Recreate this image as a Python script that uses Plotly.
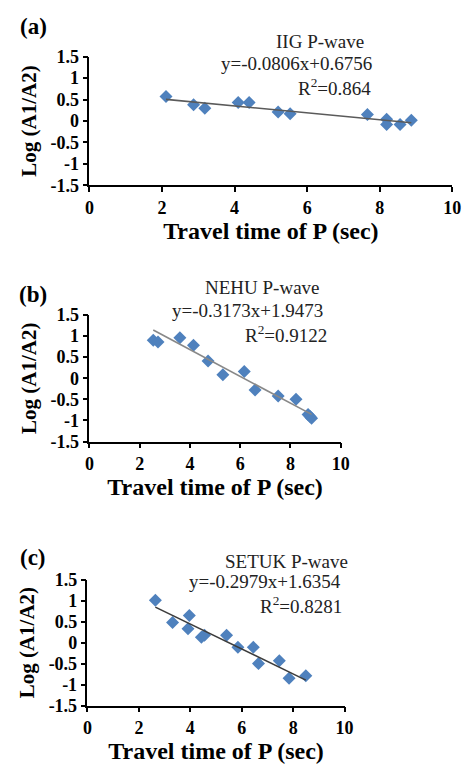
import plotly.graph_objects as go

# ---------------- data ----------------
a_time = [2.11, 2.87, 3.18, 4.10, 4.40, 5.20, 5.53, 7.66, 8.19, 8.19, 8.56, 8.87]
a_logr = [0.57, 0.38, 0.30, 0.43, 0.43, 0.21, 0.17, 0.15, 0.04, -0.08, -0.08, 0.02]
a_fit = [-0.0806, 0.6756]
a_title = "IIG P-wave"
a_eq = "y=-0.0806x+0.6756"
a_r2 = "R<sup>2</sup>=0.864"

b_time = [2.54, 2.73, 3.60, 4.14, 4.72, 5.31, 6.16, 6.59, 7.51, 8.22, 8.70, 8.78, 8.84]
b_logr = [0.90, 0.86, 0.96, 0.78, 0.41, 0.08, 0.16, -0.28, -0.42, -0.50, -0.86, -0.91, -0.95]
b_fit = [-0.3173, 1.9473]
b_title = "NEHU P-wave"
b_eq = "y=-0.3173x+1.9473"
b_r2 = "R<sup>2</sup>=0.9122"

c_time = [2.64, 3.31, 3.91, 3.96, 4.43, 4.55, 5.41, 5.85, 6.45, 6.65, 7.46, 7.84, 8.49]
c_logr = [1.01, 0.48, 0.33, 0.65, 0.13, 0.18, 0.18, -0.11, -0.11, -0.50, -0.43, -0.85, -0.79]
c_fit = [-0.2979, 1.6354]
c_title = "SETUK P-wave"
c_eq = "y=-0.2979x+1.6354"
c_r2 = "R<sup>2</sup>=0.8281"

x_ticks = [0, 2, 4, 6, 8, 10]
y_ticks = [-1.5, -1, -0.5, 0, 0.5, 1, 1.5]
y_ticklabels = ["-1.5", "-1", "-0.5", "0", "0.5", "1", "1.5"]
panel_labels = ["(a)", "(b)", "(c)"]
x_title = "Travel time of P (sec)"
y_title = "Log (A1/A2)"

W, H = 472, 772
SERIF = "Liberation Serif, Times New Roman, serif"
MARKER = "#4F81BD"

fig = go.Figure()

panels = [
    dict(t=a_time, v=a_logr, fit=a_fit, title=a_title, eq=a_eq, r2=a_r2,
         box=(87, 461, 48, 180), lc="#5a5a5a", lab=(29, 17),
         tpos=[(325, 32), (300, 55), (340, 79)]),
    dict(t=b_time, v=b_logr, fit=b_fit, title=b_title, eq=b_eq, r2=b_r2,
         box=(87, 346, 313, 443), lc="#888888", lab=(29, 292),
         tpos=[(265, 285), (250, 308), (290, 333)]),
    dict(t=c_time, v=c_logr, fit=c_fit, title=c_title, eq=c_eq, r2=c_r2,
         box=(85, 350, 585, 714), lc="#3c3c3c", lab=(29, 562),
         tpos=[(290, 566), (268, 587), (305, 611)]),
]

annotations = []
for i, p in enumerate(panels, start=1):
    xa = "x" if i == 1 else f"x{i}"
    ya = "y" if i == 1 else f"y{i}"
    x0, x1, y0, y1 = p["box"]
    tmin, tmax = min(p["t"]), max(p["t"])
    fit_x = [tmin, tmax]
    fit_y = [p["fit"][0] * tmin + p["fit"][1], p["fit"][0] * tmax + p["fit"][1]]
    fig.add_trace(go.Scatter(x=p["t"], y=p["v"], mode="markers", xaxis=xa, yaxis=ya,
                             marker=dict(symbol="diamond", size=10, color=MARKER),
                             showlegend=False))
    fig.add_trace(go.Scatter(x=fit_x, y=fit_y, mode="lines", xaxis=xa, yaxis=ya,
                             line=dict(color=p["lc"], width=1.6), showlegend=False))
    axcommon = dict(showline=True, linecolor="black", linewidth=1.5, ticks="outside",
                    ticklen=5, tickwidth=1.5, tickcolor="black", showgrid=False,
                    zeroline=False, tickfont=dict(family=SERIF, size=18, color="black",
                                                  weight="bold"))
    fig.layout[f"xaxis{'' if i == 1 else i}"] = dict(
        domain=[x0 / W, x1 / W], anchor=ya, range=[0, 10], tickvals=x_ticks,
        title=dict(text=x_title, standoff=2,
                   font=dict(family=SERIF, size=24, color="black", weight="bold")),
        **axcommon)
    fig.layout[f"yaxis{'' if i == 1 else i}"] = dict(
        domain=[1 - y1 / H, 1 - y0 / H], anchor=xa, range=[-1.5, 1.5],
        tickvals=y_ticks, ticktext=y_ticklabels,
        title=dict(text=y_title, standoff=8,
                   font=dict(family=SERIF, size=21, color="black", weight="bold")),
        **axcommon)
    annotations.append(dict(text=panel_labels[i - 1], x=p["lab"][0] / W, y=1 - p["lab"][1] / H,
                            xref="paper", yref="paper", showarrow=False,
                            xanchor="center", yanchor="middle",
                            font=dict(family=SERIF, size=23, color="black", weight="bold")))
    for txt, (tx, ty) in zip([p["title"], p["eq"], p["r2"]], p["tpos"]):
        annotations.append(dict(text=txt, x=tx / W, y=1 - ty / H, xref="paper", yref="paper",
                                showarrow=False, xanchor="center", yanchor="middle",
                                font=dict(family=SERIF, size=19, color="#222222")))

fig.update_layout(width=W, height=H, margin=dict(l=0, r=0, t=0, b=0),
                  paper_bgcolor="white", plot_bgcolor="white",
                  annotations=annotations)

fig.write_html("out.html")
